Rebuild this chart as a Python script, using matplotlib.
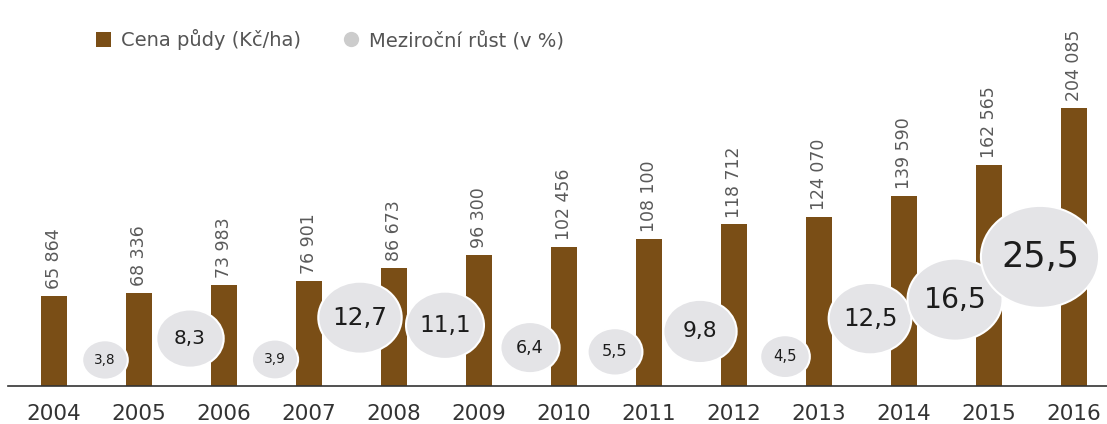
import numpy as np
import matplotlib
matplotlib.use("Agg")
import matplotlib.pyplot as plt
from matplotlib.patches import Ellipse, Patch
from matplotlib.lines import Line2D

# Cena zemědělské půdy a meziroční růst
roky = ["2004", "2005", "2006", "2007", "2008", "2009", "2010",
        "2011", "2012", "2013", "2014", "2015", "2016"]
cena = [65864, 68336, 73983, 76901, 86673, 96300, 102456,
        108100, 118712, 124070, 139590, 162565, 204085]
# růst patří k roku 2005 až 2016
rust = [3.8, 8.3, 3.9, 12.7, 11.1, 6.4, 5.5, 9.8, 4.5, 12.5, 16.5, 25.5]

HNEDA = "#7a4e16"
SEDA = "#e4e4e7"
TEXT = "#555555"

W, H = 1107, 424
fig = plt.figure(figsize=(W / 100, H / 100), dpi=100)
ax = fig.add_axes([8 / W, (H - 386) / H, (W - 8) / W, 386 / H])

x = np.arange(len(roky))
ax.bar(x, cena, width=0.31, color=HNEDA, zorder=2)
ax.set_xlim(-0.541, 12.388)
ax.set_ylim(0, 283700)

for xi, v in zip(x, cena):
    s = f"{v:,}".replace(",", " ")
    ax.annotate(s, (xi, v), xytext=(0, 5), textcoords="offset points",
                rotation=90, ha="center", va="bottom",
                fontsize=12.5, color="#5a5a5a")

for sp in ["top", "right", "left"]:
    ax.spines[sp].set_visible(False)
ax.spines["bottom"].set_color("#333333")
ax.spines["bottom"].set_linewidth(1.2)
ax.set_yticks([])
ax.set_xticks(x)
ax.set_xticklabels(roky, fontsize=15.5, color="#333333")
ax.tick_params(axis="x", length=0, pad=13)

# bubliny s meziročním růstem na vlastní ose
ax2 = ax.twinx()
ax2.set_ylim(-1.684, 79.58)
ax2.set_yticks([])
for sp in ax2.spines.values():
    sp.set_visible(False)

px_x = 85.0    # px na jeden rok
px_y = 4.75    # px na jedno procento
for i, r in enumerate(rust):
    bx = x[i + 1] - 0.4
    rx = 11.7 * np.sqrt(r)
    ry = 10.1 * np.sqrt(r)
    e = Ellipse((bx, r), 2 * rx / px_x, 2 * ry / px_y,
                facecolor=SEDA, edgecolor="white", linewidth=1.5, zorder=3)
    ax2.add_patch(e)
    ax2.text(bx, r, f"{r:.1f}".replace(".", ","), ha="center", va="center",
             fontsize=5.0 * np.sqrt(r), color="#1c1c1c", zorder=4)

handles = [Patch(facecolor=HNEDA, edgecolor="none"),
           Line2D([], [], marker="o", linestyle="none", markersize=11,
                  markerfacecolor="#cccccc", markeredgecolor="none")]
fig.legend(handles, ["Cena půdy (Kč/ha)", "Meziroční růst (v %)"],
           loc="center left", bbox_to_anchor=(78 / W, 1 - 40 / H),
           ncol=2, frameon=False, fontsize=14, labelcolor=TEXT,
           handlelength=0.8, handleheight=0.8, handletextpad=0.5,
           columnspacing=2.2)

fig.savefig("out.png", dpi=100)
